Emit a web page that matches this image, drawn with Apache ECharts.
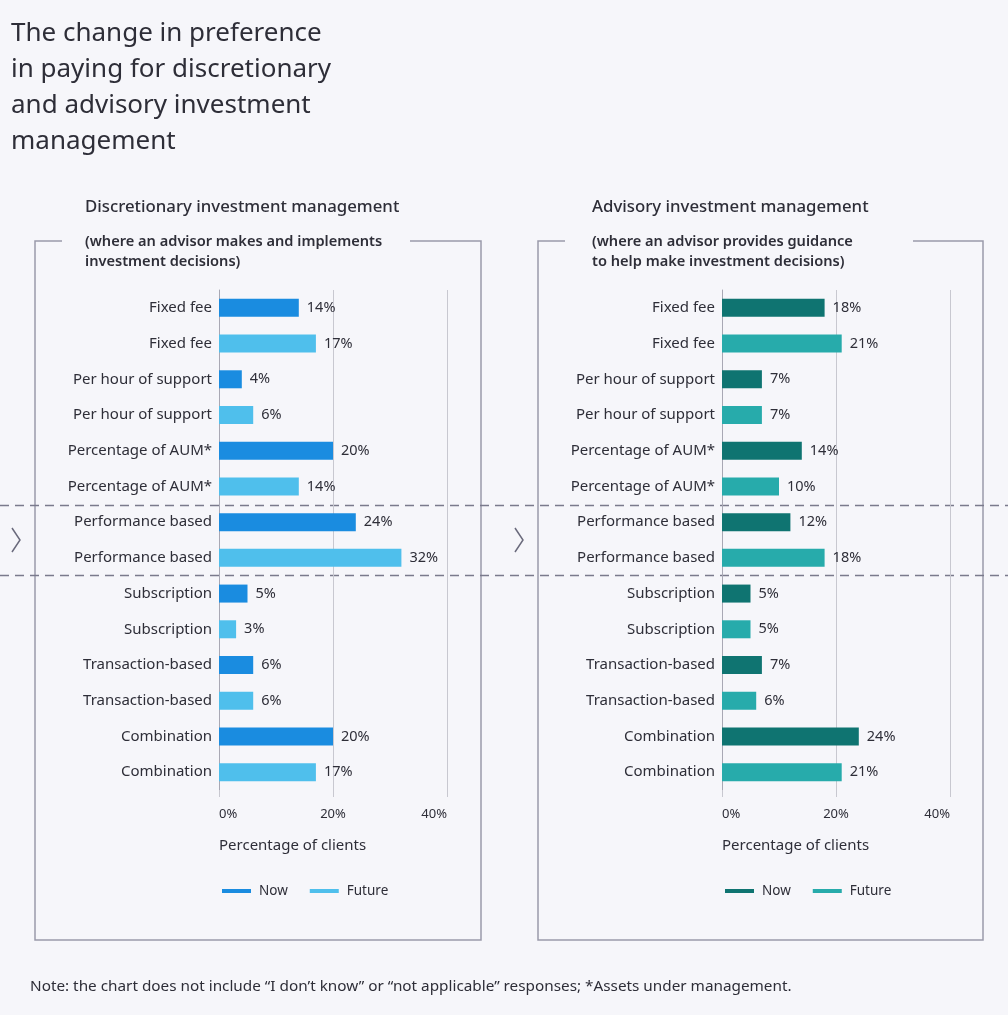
<!DOCTYPE html>
<html>
<head>
<meta charset="utf-8">
<script src="https://cdn.jsdelivr.net/npm/echarts@6/dist/echarts.min.js"></script>
<style>
html,body{margin:0;padding:0;background:#f6f6fa;}
#c{width:1008px;height:1015px;}
</style>
</head>
<body>
<div id="c"></div>
<script>
// ---- data ----
const feeTypes = ['Fixed fee', 'Per hour of support', 'Percentage of AUM*', 'Performance based', 'Subscription', 'Transaction-based', 'Combination'];
const discNow = [14, 4, 20, 24, 5, 6, 20];
const discFuture = [17, 6, 14, 32, 3, 6, 17];
const advNow = [18, 7, 14, 12, 5, 7, 24];
const advFuture = [21, 7, 10, 18, 5, 6, 21];
const xTicks = [0, 20, 40];
const seriesNames = ['Now', 'Future'];

const FONT = '"Noto Sans", sans-serif';
const TXT = '#2e2e38';

// rows: each fee type appears twice (Now, Future)
const rowLabels = [];
feeTypes.forEach(t => { rowLabels.push(t); rowLabels.push(t); });
function interleave(vals, slot) {
  const out = [];
  vals.forEach(v => {
    if (slot === 0) { out.push(v); out.push('-'); }
    else { out.push('-'); out.push(v); }
  });
  return out;
}

const panels = [
  { left: 219, nowColor: '#1a8ce0', futColor: '#4fbfec', now: discNow, fut: discFuture, prefix: 'd' },
  { left: 722, nowColor: '#0f7471', futColor: '#27abab', now: advNow, fut: advFuture, prefix: 'a' }
];

const grids = [], xAxes = [], yAxes = [], series = [], legends = [];
panels.forEach((p, i) => {
  grids.push({ left: p.left, width: 228, top: 290, height: 500, containLabel: false });
  xAxes.push({
    type: 'value', gridIndex: i, min: 0, max: 40, interval: 20,
    axisLine: { show: false },
    axisTick: { show: true, length: 7, lineStyle: { color: '#c8c8d0' } },
    splitLine: { show: true, lineStyle: { color: '#c8c8d0', width: 1 } },
    axisLabel: { formatter: v => xTicks.indexOf(v) >= 0 ? v + '%' : '', fontFamily: FONT, fontSize: 13, color: TXT, margin: 18, alignMinLabel: 'left', alignMaxLabel: 'right' }
  });
  yAxes.push({
    type: 'category', gridIndex: i, data: rowLabels, inverse: true,
    axisLine: { show: true, lineStyle: { color: '#a8a8b4', width: 1 } },
    axisTick: { show: false },
    axisLabel: { fontFamily: FONT, fontSize: 15, color: TXT, margin: 7, padding: [5, 0, 0, 0] }
  });
  [[p.now, p.nowColor, 0], [p.fut, p.futColor, 1]].forEach(([vals, col, slot]) => {
    series.push({
      type: 'bar', name: p.prefix + seriesNames[slot], xAxisIndex: i, yAxisIndex: i,
      stack: 'st' + i, barWidth: 18,
      data: interleave(vals, slot),
      itemStyle: { color: col },
      label: { show: true, position: 'right', distance: 8, formatter: '{c}%', fontFamily: FONT, fontSize: 14.5, color: TXT }
    });
  });
  legends.push({
    left: p.left - 2, top: 879, orient: 'horizontal', itemGap: 22,
    icon: 'rect', itemWidth: 29, itemHeight: 4,
    data: [p.prefix + seriesNames[0], p.prefix + seriesNames[1]],
    formatter: n => n.slice(1),
    textStyle: { fontFamily: FONT, fontSize: 13.5, color: TXT, padding: [0, 0, 0, 3] }
  });
});

const frameStyle = { stroke: '#9a9aaa', lineWidth: 1.5, fill: null };
const dashStyle = { stroke: '#7a7a8c', lineWidth: 1.5, lineDash: [9, 6] };
const graphics = [
  // main title
  { type: 'text', left: 11, top: 16, style: { text: 'The change in preference\nin paying for discretionary\nand advisory investment\nmanagement', font: '26px ' + FONT, fill: TXT, lineHeight: 36 } },
  // panel titles
  { type: 'text', left: 85, top: 199, style: { text: 'Discretionary investment management', font: '500 16.8px ' + FONT, fill: TXT } },
  { type: 'text', left: 592, top: 199, style: { text: 'Advisory investment management', font: '500 16.8px ' + FONT, fill: TXT } },
  { type: 'text', left: 85, top: 232, style: { text: '(where an advisor makes and implements\ninvestment decisions)', font: '600 14.6px ' + FONT, fill: TXT, lineHeight: 20 } },
  { type: 'text', left: 592, top: 232, style: { text: '(where an advisor provides guidance\nto help make investment decisions)', font: '600 14.6px ' + FONT, fill: TXT, lineHeight: 20 } },
  // frames
  { type: 'polyline', shape: { points: [[62, 241], [35, 241], [35, 940], [481, 940], [481, 241], [410, 241]] }, style: frameStyle },
  { type: 'polyline', shape: { points: [[565, 241], [538, 241], [538, 940], [983, 940], [983, 241], [913, 241]] }, style: frameStyle },
  // dashed separators
  { type: 'line', shape: { x1: 0, y1: 505.5, x2: 1008, y2: 505.5 }, style: dashStyle },
  { type: 'line', shape: { x1: 0, y1: 575.5, x2: 1008, y2: 575.5 }, style: dashStyle },
  // chevrons
  { type: 'polyline', shape: { points: [[12, 528], [20, 540], [12, 552]] }, style: { stroke: '#6a6a7c', lineWidth: 1.5, fill: null } },
  { type: 'polyline', shape: { points: [[515, 528], [523, 540], [515, 552]] }, style: { stroke: '#6a6a7c', lineWidth: 1.5, fill: null } },
  // axis names
  { type: 'text', left: 219, top: 838, style: { text: 'Percentage of clients', font: '15px ' + FONT, fill: TXT } },
  { type: 'text', left: 722, top: 838, style: { text: 'Percentage of clients', font: '15px ' + FONT, fill: TXT } },
  // note
  { type: 'text', left: 30, top: 979, style: { text: 'Note: the chart does not include \u201cI don\u2019t know\u201d or \u201cnot applicable\u201d responses; *Assets under management.', font: '15.3px ' + FONT, fill: TXT } }
];

const chart = echarts.init(document.getElementById('c'));
chart.setOption({
  backgroundColor: '#f6f6fa',
  animation: false,
  grid: grids, xAxis: xAxes, yAxis: yAxes, series: series, legend: legends,
  graphic: graphics
});
</script>
</body>
</html>
